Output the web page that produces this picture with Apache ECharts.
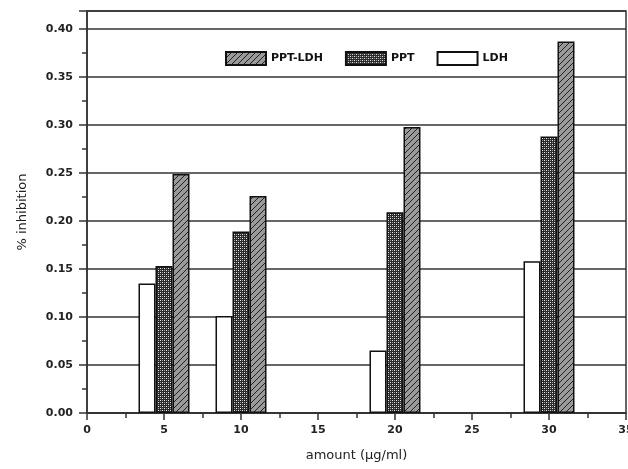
<!DOCTYPE html>
<html>
<head>
<meta charset="utf-8">
<script src="https://cdn.jsdelivr.net/npm/echarts@6/dist/echarts.min.js"></script>
<style>html,body{margin:0;padding:0;background:#fff}#c{width:628px;height:469px}</style>
</head>
<body>
<div id="c"></div>
<script>
const amounts = [5, 10, 20, 30];
const ldh = [0.135, 0.101, 0.065, 0.158];
const ppt = [0.153, 0.189, 0.209, 0.288];
const pptLdh = [0.249, 0.226, 0.298, 0.387];
const seriesNames = ['LDH', 'PPT', 'PPT-LDH'];
const legendOrder = ['PPT-LDH', 'PPT', 'LDH'];

function hatch() {
  const c = document.createElement('canvas');
  c.width = 6; c.height = 6;
  const g = c.getContext('2d');
  g.fillStyle = '#9a9a9a'; g.fillRect(0, 0, 6, 6);
  g.strokeStyle = '#222'; g.lineWidth = 1;
  g.beginPath();
  g.moveTo(-1, 7); g.lineTo(7, -1);
  g.moveTo(-4, 4); g.lineTo(4, -4);
  g.moveTo(2, 10); g.lineTo(10, 2);
  g.stroke();
  return c;
}
function dots() {
  const c = document.createElement('canvas');
  c.width = 4; c.height = 4;
  const g = c.getContext('2d');
  g.fillStyle = '#2a2a2a'; g.fillRect(0, 0, 4, 4);
  g.fillStyle = '#f0f0f0';
  g.fillRect(0, 0, 1, 1); g.fillRect(2, 2, 1, 1);
  g.fillStyle = '#999';
  g.fillRect(2, 0, 1, 1); g.fillRect(0, 2, 1, 1);
  return c;
}
const fills = [
  '#ffffff',
  { image: dots(), repeat: 'repeat' },
  { image: hatch(), repeat: 'repeat' }
];
const valuesBySeries = [ldh, ppt, pptLdh];

const chart = echarts.init(document.getElementById('c'), null, { renderer: 'canvas' });
const tickFont = { color: '#222', fontSize: 11, fontWeight: 'bold', fontFamily: 'DejaVu Sans' };
chart.setOption({
  animation: false,
  backgroundColor: '#fff',
  grid: { left: 87, right: 2, top: 11, bottom: 56, show: true, borderColor: '#333', borderWidth: 1.5, backgroundColor: 'transparent', containLabel: false, outerBoundsMode: 'none' },
  legend: {
    data: legendOrder,
    left: 220, top: 46, icon: 'rect',
    itemWidth: 40, itemHeight: 13, itemGap: 22,
    textStyle: { color: '#111', fontSize: 11, fontWeight: 'bold', fontFamily: 'DejaVu Sans' }
  },
  xAxis: {
    type: 'value', min: 0, max: 35, interval: 5,
    name: 'amount (µg/ml)', nameLocation: 'middle', nameGap: 36,
    nameTextStyle: { color: '#222', fontSize: 13, fontFamily: 'DejaVu Sans' },
    axisLine: { lineStyle: { color: '#333', width: 1.5 } },
    axisTick: { show: true, length: 7, lineStyle: { color: '#333', width: 1.5 } },
    minorTick: { show: true, splitNumber: 2, length: 5, lineStyle: { color: '#333', width: 1.5 } },
    axisLabel: Object.assign({ margin: 12 }, tickFont),
    splitLine: { show: false }
  },
  yAxis: {
    type: 'value', min: 0, max: 0.4187, interval: 0.05,
    name: '% inhibition', nameLocation: 'middle', nameGap: 58,
    nameTextStyle: { color: '#222', fontSize: 13, fontFamily: 'DejaVu Sans' },
    axisLine: { show: true, lineStyle: { color: '#333', width: 1.5 } },
    axisTick: { show: true, length: 8, lineStyle: { color: '#333', width: 1.5 } },
    minorTick: { show: true, splitNumber: 2, length: 5, lineStyle: { color: '#333', width: 1.5 } },
    axisLabel: Object.assign({ margin: 14, showMaxLabel: false, formatter: v => v > 0.41 ? '' : v.toFixed(2) }, tickFont),
    splitLine: { show: true, lineStyle: { color: '#333', width: 1.5 } }
  },
  series: seriesNames.map((n, i) => ({
    name: n, type: 'bar', barWidth: 17, barGap: '0%',
    itemStyle: { color: fills[i], borderColor: '#111', borderWidth: 1.5 },
    data: amounts.map((a, j) => [a, valuesBySeries[i][j]])
  }))
});
</script>
</body>
</html>
